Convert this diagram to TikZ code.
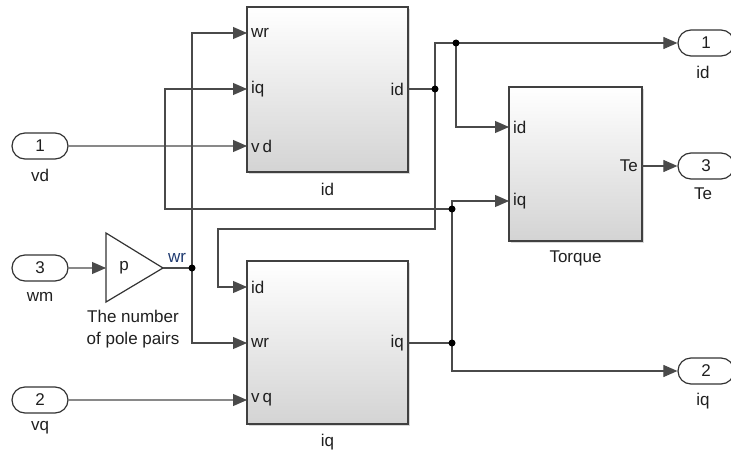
\documentclass[tikz,border=0pt]{standalone}
\usepackage{fontspec}
\setmainfont{Liberation Sans}
\usepackage{xcolor}
\usetikzlibrary{arrows.meta,shapes.misc,shadows,positioning}
\definecolor{wirec}{HTML}{4A4A4A}
\definecolor{sigc}{HTML}{1F3A70}

\begin{document}
\begin{tikzpicture}[x=1pt, y=-1pt, font=\fontsize{17}{20}\selectfont, text=black!88]
 	  \tikzstyle{port}=[draw=black!80, rounded rectangle, minimum width=56pt, minimum height=26pt, inner sep=0pt, line width=1.2pt]
 	  \tikzstyle{blk}=[draw=black!75, line width=1.5pt, top color=white, bottom color=black!17, drop shadow={opacity=.3, shadow xshift=2pt, shadow yshift=-2pt}, inner sep=0pt]
 	  \tikzstyle{wire}=[draw=wirec, line width=1.1pt]
 	  \tikzstyle{arr}=[wire, -{Triangle[length=14pt, width=12pt]}]
 	  \tikzstyle{pin}=[inner sep=4pt]
\useasboundingbox (0,0) rectangle (731,452);

% blocks
\node[blk, minimum width=161pt, minimum height=165pt] (idb) at (327.5,89.5) {};
\node[blk, minimum width=161pt, minimum height=163pt] (iqb) at (327.5,342.5) {};
\node[blk, minimum width=133pt, minimum height=154pt] (teb) at (575.5,164) {};
\node (idbl) at (327.5,189) {id};
\node (iqbl) at (327.5,442) {iq};
\node (tebl) at (575.5,258) {Torque};

% ports of the blocks
\coordinate (idwr) at (247,33);  \coordinate (idiq) at (247,89);
\coordinate (idvd) at (247,146); \coordinate (idout) at (408,89);
\coordinate (iqid) at (247,287); \coordinate (iqwr) at (247,343);
\coordinate (iqvq) at (247,400); \coordinate (iqout) at (408,343);
\coordinate (teid) at (509,127); \coordinate (teiq) at (509,201);
\coordinate (teout) at (642,166);
\node[pin, anchor=west] (idwrl) at (idwr) {wr};
\node[pin, anchor=west] (idiql) at (idiq) {iq};
\node[pin, anchor=west] (idvdl) at (idvd) {v\,d};
\node[pin, anchor=east] (idoutl) at (idout) {id};
\node[pin, anchor=west] (iqidl) at (iqid) {id};
\node[pin, anchor=west] (iqwrl) at (iqwr) {wr};
\node[pin, anchor=west] (iqvql) at (iqvq) {v\,q};
\node[pin, anchor=east] (iqoutl) at (iqout) {iq};
\node[pin, anchor=west] (teidl) at (teid) {id};
\node[pin, anchor=west] (teiql) at (teiq) {iq};
\node[pin, anchor=east] (teoutl) at (teout) {Te};

% in and out ports
\node[port] (in1) at (40,146) {1};
\node[port] (in3) at (40,268) {3};
\node[port] (in2) at (40,400) {2};
\node (in1l) at (40,175) {vd};
\node (in3l) at (40,297) {wm};
\node (in2l) at (40,428) {vq};
\node[port] (out1) at (706,43) {1};
\node[port] (out3) at (706,166) {3};
\node[port] (out2) at (706,371) {2};
\node (out1l) at (703,72) {id};
\node (out3l) at (703,194) {Te};
\node (out2l) at (703,401) {iq};

% gain
\coordinate (gin) at (106,268);
\coordinate (gout) at (163,268);
\draw[draw=black!80, line width=1.2pt] (106,233) -- (gout) -- (106,302) -- cycle;
\node (gain) at (124,268) {p};
\node[align=center, font=\fontsize{17}{22}\selectfont] (gainl) at (133,329) {The number\\of pole pairs};
\node[text=sigc, inner sep=0pt] (wrl) at (177,258) {wr};

% branch points
\coordinate (jw) at (192,268);
\coordinate (j1) at (435,89);
\coordinate (j2) at (456,43);
\coordinate (j3) at (452,343);
\coordinate (j4) at (452,209);
\coordinate (c1) at (218,229);
\coordinate (c2) at (165,209);

% signals
\draw[arr] (in1) -- (idvd);
\draw[arr] (in2) -- (iqvq);
\draw[arr] (in3) -- (gin);
\draw[wire] (gout) -- (jw);
\draw[arr] (jw) |- (idwr);
\draw[arr] (jw) |- (iqwr);
\draw[wire] (idout) -- (j1);
\draw[wire] (j1) |- (j2);
\draw[arr] (j2) -- (out1);
\draw[arr] (j2) |- (teid);
\draw[arr] (j1) |- (c1) |- (iqid);
\draw[wire] (iqout) -- (j3);
\draw[arr] (j3) |- (teiq);
\draw[arr] (j3) |- (out2);
\draw[arr] (j4) -- (c2) |- (idiq);
\draw[arr] (teout) -- (out3);
\foreach \j in {jw,j1,j2,j3,j4}{
    \fill[black] (\j) circle (3.5pt);
      }
   \end{tikzpicture}
\end{document}
